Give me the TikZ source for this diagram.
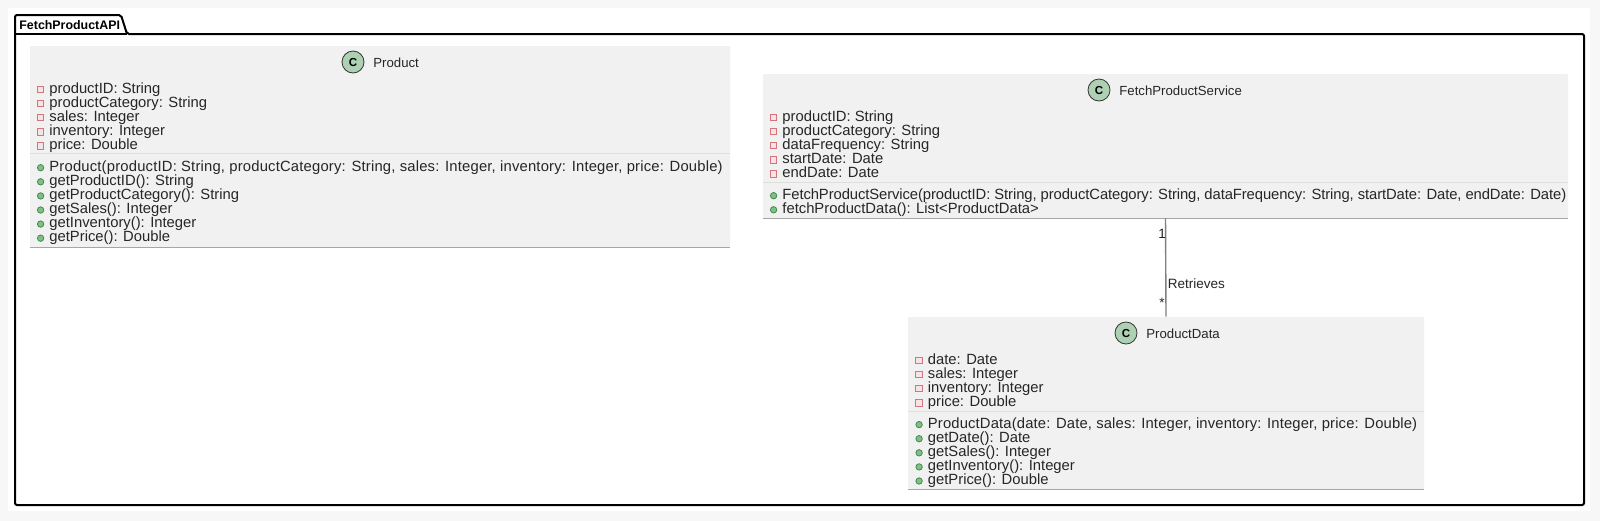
\documentclass[tikz,border=0pt]{standalone}
\usepackage{fontspec}
\setmainfont{Liberation Sans}
\usetikzlibrary{positioning}

\begin{document}
\begin{tikzpicture}[x=0.5pt,y=-0.5pt,
    classbox/.style={fill=boxgray,inner sep=0pt,rounded corners=0.5pt},
    rule/.style={draw=rulegray,line width=0.6pt},
    baseline rule/.style={draw=black!35,line width=0.5pt},
    edgeline/.style={draw=edgegray,line width=0.7pt},
    spot/.style={circle,draw=black!80,line width=0.4pt,fill=spotgreen,minimum size=11pt,inner sep=0pt,font=\fontsize{5.8}{7}\selectfont\bfseries},
    title/.style={anchor=west,inner sep=0pt,font=\fontsize{6.6}{8}\selectfont,text=black!85},
    attrmark/.style={rectangle,draw=attrred,fill=attrfill,line width=0.5pt,minimum size=3.2pt,inner sep=0pt},
    methmark/.style={circle,draw=methgreen,fill=methfill,line width=0.4pt,minimum size=3.2pt,inner sep=0pt},
    member/.style={anchor=west,inner sep=0pt,text height=5pt,text depth=1.4pt,font=\fontsize{7.4}{8}\selectfont,text=black!85},
    attr/.style={member,label={[attrmark,label distance=2.4pt]left:{}}},
    meth/.style={member,label={[methmark,label distance=2.4pt]left:{}}},
    edgelabel/.style={inner sep=0pt,font=\fontsize{6.75}{8}\selectfont,text=black!85}]
  \definecolor{boxgray}{HTML}{F1F1F1}
  \definecolor{rulegray}{HTML}{DEDEDE}
  \definecolor{edgegray}{HTML}{808080}
  \definecolor{spotgreen}{HTML}{ADD1B2}
  \definecolor{attrred}{HTML}{D5747C}
  \definecolor{attrfill}{HTML}{F5E4E5}
  \definecolor{methgreen}{HTML}{3D8C50}
  \definecolor{methfill}{HTML}{84BE84}
  \useasboundingbox (0,0) rectangle (1600,521);
  \fill[black!3] (0,0) rectangle (1600,521);
  \fill[white] (8,8) rectangle (1590,511);
  % package
  \draw[line width=1pt,rounded corners=1pt] (15,34) -- (15,15) -- (121,15) -- (127,34) -- (1584,34) -- (1584,505) -- (15,505) -- cycle;
  \draw[line width=1pt] (15,34) -- (127,34);
  \node (pkgname) [anchor=west,inner sep=0pt,font=\fontsize{6.2}{8}\selectfont\bfseries] at (19,25.5) {FetchProductAPI};

  % Product
  \node (product) [classbox,minimum width=350pt,minimum height=100.5pt] at (380,146.5) {};
  \draw[rule] (30,153.5) -- (730,153.5);
  \draw[baseline rule] (30,247) -- (730,247);
  \node (productspot) [spot] at (353,62) {C};
  \node (producttitle) [title] at (373,62.5) {Product};
  \node (p1) [attr] at (49,89.5) {productID: String};
  \node (p2) [attr] at (49,103.6) {productCategory: String};
  \node (p3) [attr] at (49,117.7) {sales: Integer};
  \node (p4) [attr] at (49,131.8) {inventory: Integer};
  \node (p5) [attr] at (49,145.9) {price: Double};
  \node (p6) [meth] at (49,167.7) {\addfontfeature{LetterSpace=1.3}Product(productID: String, productCategory: String, sales: Integer, inventory: Integer, price: Double)};
  \node (p7) [meth] at (49,181.8) {getProductID(): String};
  \node (p8) [meth] at (49,195.9) {getProductCategory(): String};
  \node (p9) [meth] at (49,210) {getSales(): Integer};
  \node (p10) [meth] at (49,224.1) {getInventory(): Integer};
  \node (p11) [meth] at (49,238.2) {getPrice(): Double};

  % FetchProductService
  \node (service) [classbox,minimum width=402.5pt,minimum height=72pt] at (1165.5,146) {};
  \draw[rule] (763,182.5) -- (1568,182.5);
  \draw[baseline rule] (763,218) -- (1568,218);
  \node (servicespot) [spot] at (1099,90) {C};
  \node (servicetitle) [title] at (1119,90.5) {FetchProductService};
  \node (s1) [attr] at (782,117.5) {productID: String};
  \node (s2) [attr] at (782,131.6) {productCategory: String};
  \node (s3) [attr] at (782,145.7) {dataFrequency: String};
  \node (s4) [attr] at (782,159.8) {startDate: Date};
  \node (s5) [attr] at (782,173.9) {endDate: Date};
  \node (s6) [meth] at (782,195.7) {\addfontfeature{LetterSpace=-0.6}FetchProductService(productID: String, productCategory: String, dataFrequency: String, startDate: Date, endDate: Date)};
  \node (s7) [meth] at (782,209.8) {fetchProductData(): List<ProductData>};

  % ProductData
  \node (data) [classbox,minimum width=258pt,minimum height=86pt] at (1166,403) {};
  \draw[rule] (908,411.5) -- (1424,411.5);
  \draw[baseline rule] (908,489) -- (1424,489);
  \node (dataspot) [spot] at (1126,333) {C};
  \node (datatitle) [title] at (1146,333.5) {ProductData};
  \node (d1) [attr] at (927.5,360.5) {date: Date};
  \node (d2) [attr] at (927.5,374.6) {sales: Integer};
  \node (d3) [attr] at (927.5,388.7) {inventory: Integer};
  \node (d4) [attr] at (927.5,402.8) {price: Double};
  \node (d5) [meth] at (927.5,424.6) {\addfontfeature{LetterSpace=1.0}ProductData(date: Date, sales: Integer, inventory: Integer, price: Double)};
  \node (d6) [meth] at (927.5,438.7) {getDate(): Date};
  \node (d7) [meth] at (927.5,452.8) {getSales(): Integer};
  \node (d8) [meth] at (927.5,466.9) {getInventory(): Integer};
  \node (d9) [meth] at (927.5,481) {getPrice(): Double};

  % association
  \draw[edgeline] (service.south) -- (data.north);
  \node (one) [edgelabel] at (1162,233.5) {1};
  \node (many) [edgelabel] at (1162,302.5) {*};
  \node (retrieves) [edgelabel,anchor=west] at (1167.5,283.5) {Retrieves};
\end{tikzpicture}
\end{document}
